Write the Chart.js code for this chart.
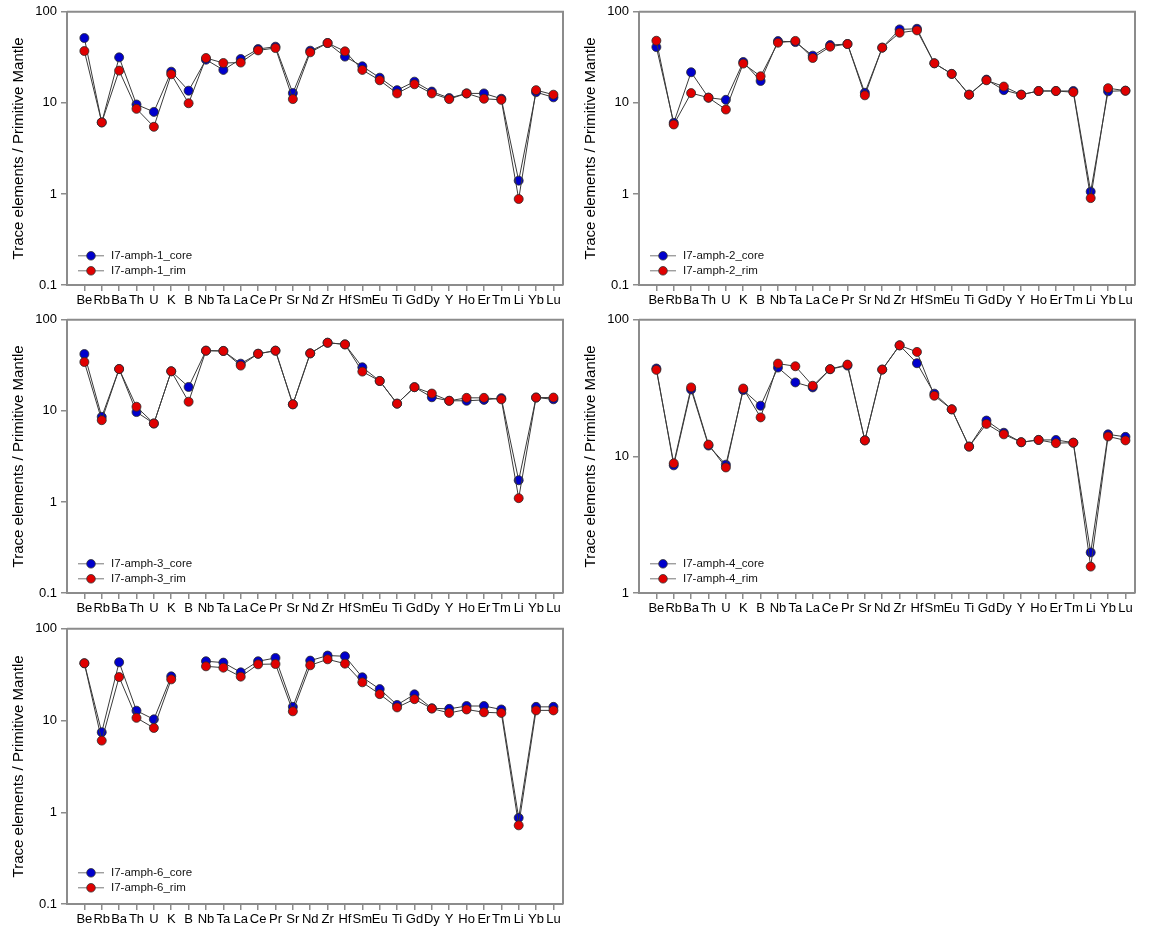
<!DOCTYPE html>
<html>
<head>
<meta charset="utf-8">
<script src="https://cdn.jsdelivr.net/npm/chart.js@4/dist/chart.umd.min.js"></script>
<style>
    body { margin: 0; background: #fff; }
    #wrap { position: relative; width: 1150px; height: 932px; }
    canvas { position: absolute; }
</style>
</head>
<body>
<div id="wrap">
    <canvas id="c1" width="575" height="310" style="left:0px;top:0px"></canvas>
    <canvas id="c2" width="575" height="310" style="left:572px;top:0px"></canvas>
    <canvas id="c3" width="575" height="310" style="left:0px;top:308px"></canvas>
    <canvas id="c4" width="575" height="310" style="left:572px;top:308px"></canvas>
    <canvas id="c5" width="575" height="312" style="left:0px;top:617px"></canvas>
</div>
<script>
// elementos (eje x)
const elements = ["Be","Rb","Ba","Th","U","K","B","Nb","Ta","La","Ce","Pr","Sr","Nd",
    "Zr","Hf","Sm","Eu","Ti","Gd","Dy","Y","Ho","Er","Tm","Li","Yb","Lu"];

// normalizado a manto primitivo
const amph1Core = [51.5, 6.1, 31.6, 9.6, 7.96, 22.0, 13.6, 29.8, 23.0, 30.3, 39.0, 41.4, 12.8, 37.4, 45.4, 32.2, 25.2, 18.9, 13.8, 17.1, 13.3, 11.3, 12.7, 12.7, 11.1, 1.40, 13.1, 11.5];
const amph1Rim  = [37.1, 6.1, 22.6, 8.6, 5.46, 20.6, 9.9, 31.1, 27.4, 27.7, 37.7, 40.0, 11.0, 35.9, 45.4, 36.8, 23.0, 17.7, 12.7, 16.0, 12.7, 11.0, 12.7, 11.1, 10.8, 0.88, 13.8, 12.3];

const amph2Core = [41.0, 6.04, 21.7, 11.4, 10.8, 28.1, 17.4, 47.7, 46.5, 33.0, 43.1, 44.3, 12.9, 40.4, 64.1, 65.1, 27.2, 20.8, 12.3, 18.0, 13.8, 12.3, 13.5, 13.5, 13.5, 1.06, 13.4, 13.6];
const amph2Rim  = [48.1, 5.79, 12.8, 11.4, 8.45, 27.0, 19.6, 45.8, 47.9, 31.1, 41.4, 44.3, 12.1, 40.4, 58.9, 62.5, 27.2, 20.8, 12.3, 17.7, 15.1, 12.3, 13.5, 13.5, 13.1, 0.90, 14.5, 13.6];

const amph3Core = [42.1, 8.6, 28.8, 9.7, 7.27, 27.2, 18.3, 45.8, 45.5, 33.0, 42.4, 45.8, 11.8, 42.8, 56.0, 53.7, 30.1, 21.3, 12.0, 18.2, 14.1, 12.9, 12.9, 13.2, 13.8, 1.73, 14.0, 13.4];
const amph3Rim  = [34.4, 7.9, 28.8, 11.1, 7.27, 27.2, 12.6, 45.8, 45.5, 31.4, 42.4, 45.8, 11.8, 42.8, 56.0, 53.7, 27.0, 21.3, 12.0, 18.2, 15.5, 12.9, 13.9, 13.9, 13.4, 1.10, 14.0, 14.0];

const amph4Core = [44.0, 8.6, 30.9, 12.0, 8.7, 30.6, 23.5, 44.7, 34.8, 32.0, 43.5, 46.2, 13.1, 43.2, 65.0, 48.1, 28.8, 22.1, 11.8, 18.3, 14.9, 12.7, 13.2, 13.2, 12.6, 1.98, 14.5, 13.9];
const amph4Rim  = [43.0, 8.9, 32.0, 12.2, 8.3, 31.4, 19.3, 47.8, 45.7, 32.9, 43.5, 47.0, 13.1, 43.2, 65.0, 58.2, 27.8, 22.1, 11.8, 17.3, 14.5, 12.7, 13.2, 12.5, 12.6, 1.56, 14.0, 13.1];

const amph6Core = [42.1, 7.45, 43.2, 12.8, 10.3, 30.3, null, 44.3, 42.8, 33.5, 44.3, 48.1, 14.1, 45.0, 51.1, 50.2, 29.6, 22.0, 14.8, 19.3, 13.6, 13.4, 14.4, 14.4, 13.2, 0.87, 14.1, 14.1];
const amph6Rim  = [42.1, 6.04, 29.8, 10.7, 8.3, 28.1, null, 39.0, 37.7, 30.1, 41.0, 41.3, 12.6, 40.0, 46.5, 41.7, 26.1, 19.4, 13.9, 17.1, 13.5, 12.1, 13.2, 12.3, 12.1, 0.72, 12.9, 12.9];

const yTicksWide  = [0.1, 1, 10, 100];
const yTicksShort = [1, 10, 100];

const AXIS = "#8c8c8c";
const FONT = "Arial, 'Liberation Sans', sans-serif";

// =========================
// LEYENDA DENTRO DEL GRÁFICO
// =========================
const legendInside = {
    id: "legendInside",
    afterDatasetsDraw(chart) {
        const { ctx, chartArea } = chart;
        ctx.save();
        chart.data.datasets.forEach((ds, i) => {
            const y = chartArea.top + 244 + i * 15;
            const x0 = chartArea.left + 11;
            ctx.strokeStyle = "#777";
            ctx.lineWidth = 1;
            ctx.beginPath();
            ctx.moveTo(x0, y);
            ctx.lineTo(x0 + 26, y);
            ctx.stroke();
            ctx.beginPath();
            ctx.arc(x0 + 13, y, 4.3, 0, Math.PI * 2);
            ctx.fillStyle = ds.pointBackgroundColor;
            ctx.fill();
            ctx.strokeStyle = "#333";
            ctx.lineWidth = 0.8;
            ctx.stroke();
            ctx.fillStyle = "#111";
            ctx.font = "11.5px " + FONT;
            ctx.textBaseline = "middle";
            ctx.fillText(ds.label, x0 + 33, y + 0.5);
        });
        ctx.restore();
    }
};

// marco superior y derecho
const frame = {
    id: "frame",
    beforeDatasetsDraw(chart) {
        const { ctx, chartArea } = chart;
        ctx.save();
        ctx.strokeStyle = AXIS;
        ctx.lineWidth = 2;
        ctx.beginPath();
        ctx.moveTo(chartArea.left, chartArea.top);
        ctx.lineTo(chartArea.right, chartArea.top);
        ctx.lineTo(chartArea.right, chartArea.bottom);
        ctx.stroke();
        ctx.restore();
    }
};

function serie(label, values, color, order) {
    return {
        label,
        data: values.map((v, i) => ({ x: i, y: v })),
        borderColor: "#3a3a3a",
        borderWidth: 1,
        pointBackgroundColor: color,
        pointBorderColor: "#2a2a2a",
        pointBorderWidth: 0.8,
        pointRadius: 4.5,
        spanGaps: false,
        order
    };
}

function dibujarPanel(id, n, core, rim, yMin, yTicks) {
    new Chart(document.getElementById(id), {
        type: "line",
        data: {
            datasets: [
                serie("I7-amph-" + n + "_core", core, "#0000cc", 1),
                serie("I7-amph-" + n + "_rim", rim, "#e00000", 0)
            ]
        },
        options: {
            responsive: false,
            animation: false,
            layout: { padding: { left: 0, top: 11, right: 12, bottom: 0 } },
            plugins: { legend: { display: false }, tooltip: { enabled: false } },
            scales: {
                x: {
                    type: "linear",
                    min: -1,
                    max: 27.55,
                    afterBuildTicks: s => { s.ticks = elements.map((e, i) => ({ value: i })); },
                    afterFit: s => { s.height = 25; },
                    border: { color: AXIS, width: 2 },
                    grid: { drawOnChartArea: false, drawTicks: true, tickLength: 6, color: AXIS, lineWidth: 1.5 },
                    ticks: {
                        autoSkip: false,
                        maxRotation: 0,
                        padding: 2,
                        color: "#000",
                        font: { family: FONT, size: 13 },
                        callback: v => elements[v]
                    }
                },
                y: {
                    type: "logarithmic",
                    min: yMin,
                    max: 100,
                    afterBuildTicks: s => { s.ticks = yTicks.map(v => ({ value: v })); },
                    afterFit: s => { s.width = 67; },
                    border: { color: AXIS, width: 2 },
                    grid: { drawOnChartArea: false, drawTicks: true, tickLength: 6, color: AXIS, lineWidth: 1.5 },
                    ticks: {
                        padding: 4,
                        color: "#000",
                        font: { family: FONT, size: 13 },
                        callback: v => String(v)
                    },
                    title: {
                        display: true,
                        text: "Trace elements / Primitive Mantle",
                        color: "#000",
                        font: { family: FONT, size: 15 },
                        padding: { top: 10, bottom: 0 }
                    }
                }
            }
        },
        plugins: [frame, legendInside]
    });
}

document.addEventListener("DOMContentLoaded", () => {
    dibujarPanel("c1", 1, amph1Core, amph1Rim, 0.1, yTicksWide);
    dibujarPanel("c2", 2, amph2Core, amph2Rim, 0.1, yTicksWide);
    dibujarPanel("c3", 3, amph3Core, amph3Rim, 0.1, yTicksWide);
    dibujarPanel("c4", 4, amph4Core, amph4Rim, 1, yTicksShort);
    dibujarPanel("c5", 6, amph6Core, amph6Rim, 0.1, yTicksWide);
});
</script>
</body>
</html>
